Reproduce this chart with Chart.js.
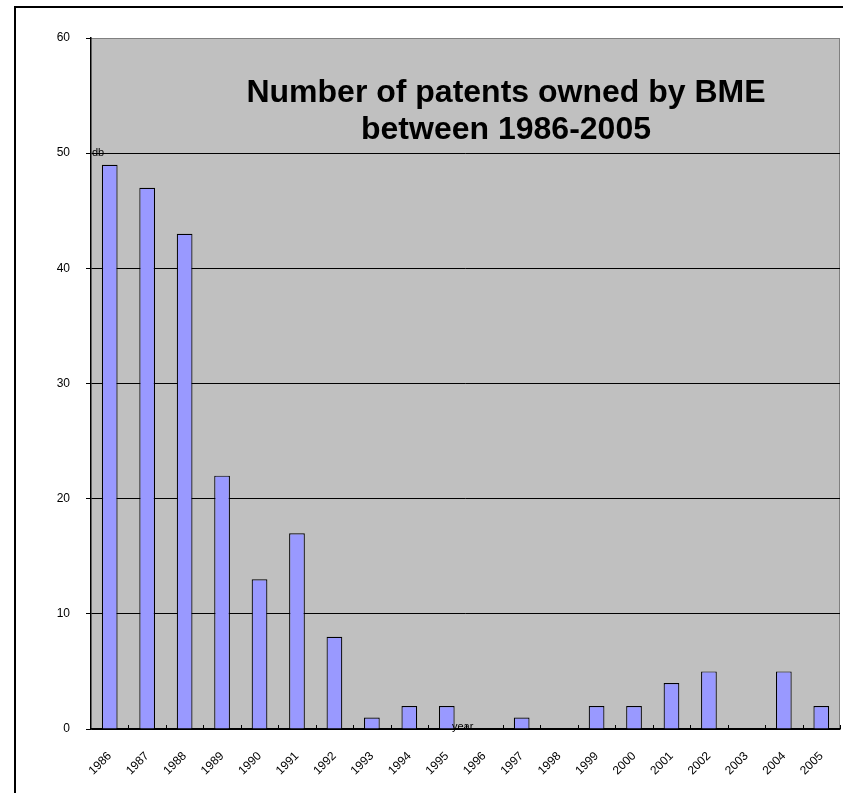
<!DOCTYPE html>
<html>
<head>
<meta charset="utf-8">
<script src="https://cdn.jsdelivr.net/npm/chart.js@4"></script>
<style>
  html, body { margin: 0; padding: 0; background: #fff; overflow: hidden; }
  #wrap { width: 843px; height: 793px; position: relative; }
</style>
</head>
<body>
<div id="wrap"><canvas id="chart"></canvas></div>
<script>
// data
const years = ['1986','1987','1988','1989','1990','1991','1992','1993','1994','1995',
               '1996','1997','1998','1999','2000','2001','2002','2003','2004','2005'];
const patents = [49, 47, 43, 22, 13, 17, 8, 1, 2, 2, 0, 1, 0, 2, 2, 4, 5, 0, 5, 2];
const titleLines = ['Number of patents owned by BME', 'between 1986-2005'];
const yTitle = 'db';
const xTitle = 'year';

const FONT = "Arial, 'Liberation Sans', sans-serif";

// gray plot area, frame, inward x ticks, title and axis titles
const decor = {
  id: 'decor',
  beforeDraw(chart) {
    const c = chart.ctx, a = chart.chartArea;
    c.save();
    c.fillStyle = '#c0c0c0';
    c.fillRect(a.left, a.top, a.right - a.left, a.bottom - a.top);
    // outer frame (only top + left visible)
    c.strokeStyle = '#000';
    c.lineWidth = 2;
    c.beginPath();
    c.moveTo(15, 900); c.lineTo(15, 7); c.lineTo(900, 7);
    c.stroke();
    // gray border on top/right of plot
    c.strokeStyle = '#808080';
    c.lineWidth = 1;
    c.beginPath();
    c.moveTo(a.left, a.top + 0.5); c.lineTo(a.right - 0.5, a.top + 0.5); c.lineTo(a.right - 0.5, a.bottom);
    c.stroke();
    c.restore();
  },
  afterDraw(chart) {
    const c = chart.ctx, a = chart.chartArea, xs = chart.scales.x;
    c.save();
    // small inward tick marks between categories
    c.strokeStyle = '#000';
    c.lineWidth = 1;
    const step = (a.right - a.left) / years.length;
    c.beginPath();
    for (let i = 1; i <= years.length; i++) {
      const x = Math.round(xs.getPixelForTick(i - 1) + step / 2) + 0.5;
      c.moveTo(x, a.bottom); c.lineTo(x, a.bottom - 4);
    }
    c.stroke();
    // title
    c.fillStyle = '#000';
    c.font = 'bold 32px ' + FONT;
    c.textAlign = 'center';
    c.textBaseline = 'alphabetic';
    c.fillText(titleLines[0], 506, 102);
    c.fillText(titleLines[1], 506, 139);
    // axis titles as in the original spot
    c.font = '11px ' + FONT;
    c.textAlign = 'left';
    c.textBaseline = 'middle';
    c.fillText(yTitle, 92, chart.scales.y.getPixelForValue(50));
    c.fillText(xTitle, 452, a.bottom - 2);
    c.restore();
  }
};

new Chart(document.getElementById('chart'), {
  type: 'bar',
  data: {
    labels: years,
    datasets: [{
      data: patents,
      backgroundColor: '#9999ff',
      borderColor: '#000',
      borderWidth: 1.2,
      barPercentage: 0.42,
      categoryPercentage: 1
    }]
  },
  options: {
    responsive: true,
    maintainAspectRatio: false,
    animation: false,
    layout: { padding: { top: 38, right: 3, left: 0, bottom: 0 } },
    plugins: {
      legend: { display: false },
      tooltip: { enabled: false },
      title: { display: false }
    },
    scales: {
      x: {
        grid: { display: false, drawTicks: false },
        border: { color: '#000', width: 1.5 },
        ticks: {
          color: '#000',
          font: { family: FONT, size: 12 },
          minRotation: 45,
          maxRotation: 45,
          padding: 20,
          autoSkip: false
        },
        afterFit(s) { s.height = 64; s.paddingLeft = 0; s.paddingRight = 0; }
      },
      y: {
        min: 0,
        max: 60,
        grid: {
          color: ctx => ctx.tick && ctx.tick.value === 60 ? '#808080' : '#000',
          lineWidth: 1,
          tickLength: 5,
          tickColor: '#000'
        },
        border: { color: '#000', width: 1.5 },
        ticks: {
          stepSize: 10,
          color: '#000',
          font: { family: FONT, size: 12 },
          padding: 16
        },
        afterFit(s) { s.width = 91; }
      }
    }
  },
  plugins: [decor]
});
</script>
</body>
</html>
